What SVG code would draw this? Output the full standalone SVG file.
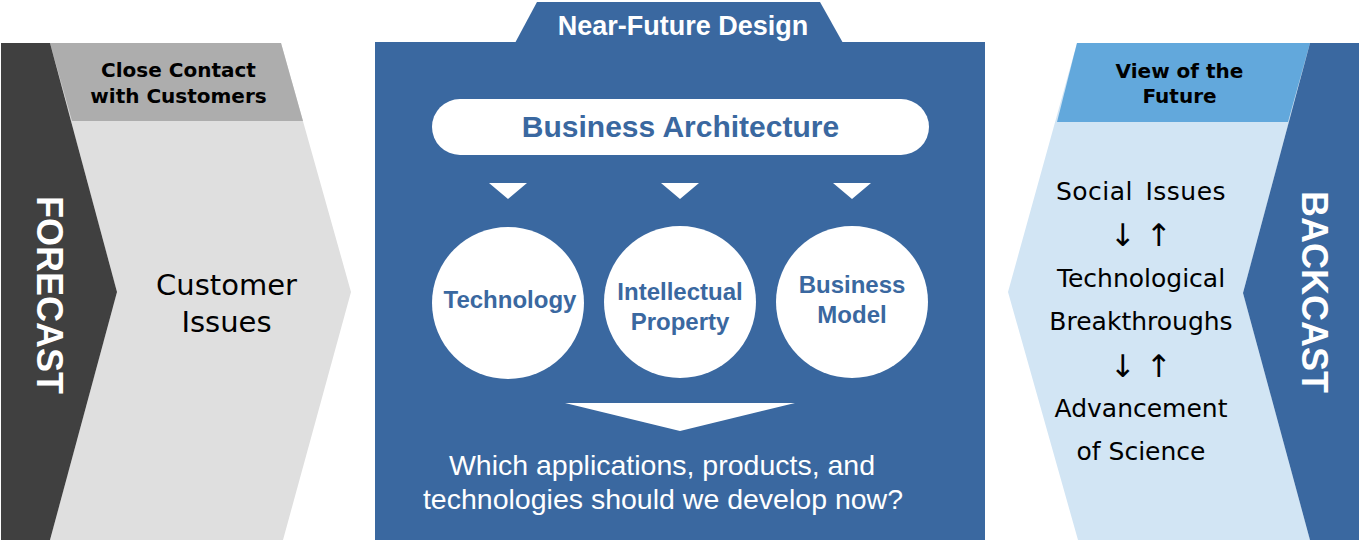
<svg xmlns="http://www.w3.org/2000/svg" width="1360" height="545" viewBox="0 0 1360 545">
<style>
.bg{fill:#ffffff}
.blue{fill:#3a68a0}
.white{fill:#ffffff}
.arial-b{font-family:"Liberation Sans",Arial,sans-serif;font-weight:bold}
.arial{font-family:"Liberation Sans",Arial,sans-serif}
.dv-b{font-family:"DejaVu Sans",Verdana,sans-serif;font-weight:bold}
.dv{font-family:"DejaVu Sans",Verdana,sans-serif}
.c{text-anchor:middle}
</style>
<rect class="bg" x="0" y="0" width="1360" height="545"/>

<g id="forecast-panel">
  <polygon points="50,43 281,43 351,292 283,540 50,540 117,292" fill="#dfdfdf"/>
  <polygon points="50,43 281,43 303,121 72,121" fill="#adadad"/>
  <polygon points="1,43 50,43 117,292 50,540 1,540" fill="#404040"/>
  <text class="arial-b c" font-size="36" fill="#ffffff" transform="translate(37,295) rotate(90)">FORECAST</text>
  <text class="dv-b c" font-size="20" fill="#000000" x="178.5" y="77">Close Contact</text>
  <text class="dv-b c" font-size="20" fill="#000000" x="178.5" y="103">with Customers</text>
  <text class="dv c" font-size="29" fill="#000000" x="226.5" y="295">Customer</text>
  <text class="dv c" font-size="29" fill="#000000" x="226.5" y="332">Issues</text>
</g>

<g id="near-future-design">
  <polygon class="blue" points="515,43 537,2 820,2 843,43"/>
  <rect class="blue" x="375" y="42" width="610" height="498"/>
  <text class="arial-b c" font-size="27" fill="#ffffff" x="683" y="35">Near-Future Design</text>
</g>

<g id="business-architecture">
  <rect class="white" x="432" y="99" width="497" height="56" rx="28" ry="28"/>
  <text class="arial-b c" font-size="30" fill="#3a68a0" x="680.5" y="137">Business Architecture</text>
</g>

<g id="technology">
  <circle class="white" cx="508" cy="303" r="76"/>
  <text class="arial-b c" font-size="24" fill="#3a68a0" x="510" y="308">Technology</text>
</g>

<g id="intellectual-property">
  <circle class="white" cx="680" cy="302" r="76"/>
  <text class="arial-b c" font-size="24" fill="#3a68a0" x="680" y="300">Intellectual</text>
  <text class="arial-b c" font-size="24" fill="#3a68a0" x="680" y="330">Property</text>
</g>

<g id="business-model">
  <circle class="white" cx="852" cy="302" r="76"/>
  <text class="arial-b c" font-size="24" fill="#3a68a0" x="852" y="293">Business</text>
  <text class="arial-b c" font-size="24" fill="#3a68a0" x="852" y="323">Model</text>
</g>

<g id="connectors">
  <polygon class="white" points="489,183 527,183 508,199"/>
  <polygon class="white" points="661,183 699,183 680,199"/>
  <polygon class="white" points="833,183 871,183 852,199"/>
  <polygon class="white" points="565,403 795,403 680,431"/>
</g>

<g id="question">
  <text class="arial c" font-size="28.5" fill="#ffffff" x="662" y="475">Which applications, products, and</text>
  <text class="arial c" font-size="28.5" fill="#ffffff" x="663" y="509">technologies should we develop now?</text>
</g>

<g id="backcast-panel">
  <polygon points="1077,43 1310,43 1243,293 1310,540 1078,540 1008,292" fill="#d2e5f4"/>
  <polygon points="1077,43 1310,43 1288,122 1057,122" fill="#62a8dc"/>
  <polygon class="blue" points="1310,43 1359,43 1359,540 1310,540 1243,293"/>
  <text class="arial-b c" font-size="36" fill="#ffffff" transform="translate(1302,292) rotate(90)">BACKCAST</text>
  <text class="dv-b c" font-size="20" fill="#000000" x="1179.5" y="78">View of the</text>
  <text class="dv-b c" font-size="20" fill="#000000" x="1179.5" y="103">Future</text>
  <g class="dv c" font-size="25" fill="#000000">
    <text x="1141" y="200" letter-spacing="0.5" word-spacing="4">Social Issues</text>
    <text x="1141" y="246" font-size="31">↓ ↑</text>
    <text x="1141" y="287">Technological</text>
    <text x="1141" y="330">Breakthroughs</text>
    <text x="1141" y="377" font-size="31">↓ ↑</text>
    <text x="1141" y="417">Advancement</text>
    <text x="1141" y="460">of Science</text>
  </g>
</g>
</svg>
